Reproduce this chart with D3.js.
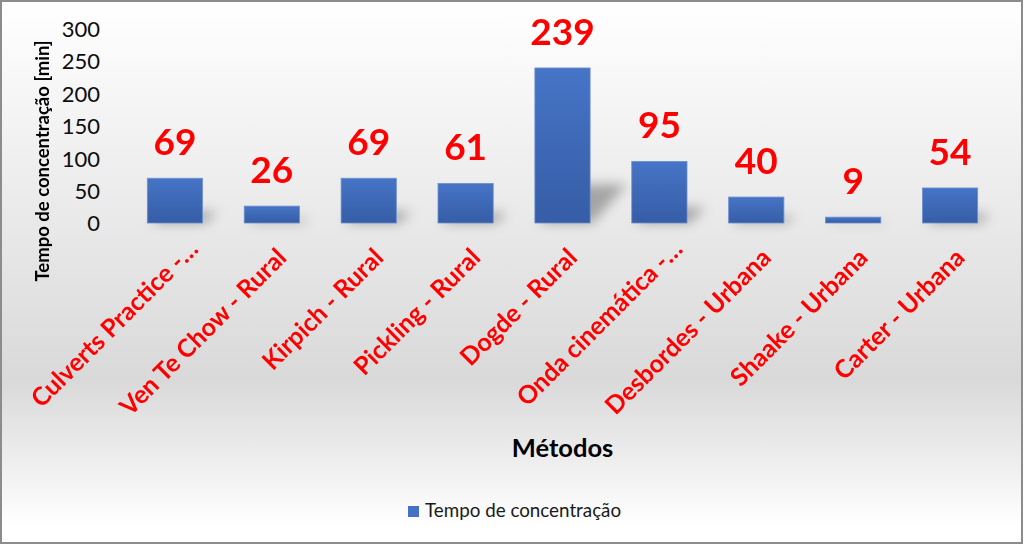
<!DOCTYPE html>
<html><head><meta charset="utf-8">
<script src="https://cdn.jsdelivr.net/npm/d3@7"></script>
<style>html,body{margin:0;padding:0;background:#fff;}svg{display:block;}</style>
</head><body>
<script>
const categories = ["Culverts Practice -…","Ven Te Chow - Rural","Kirpich - Rural","Pickling - Rural","Dogde - Rural","Onda cinemática -…","Desbordes - Urbana","Shaake - Urbana","Carter - Urbana"];
const values = [69, 26, 69, 61, 239, 95, 40, 9, 54];
const yTicks = [0, 50, 100, 150, 200, 250, 300];
const seriesName = "Tempo de concentração";
const yTitle = "Tempo de concentração [min]";
const xTitle = "Métodos";

const W = 1024, H = 545;
const FONT = "Lato, 'Open Sans', sans-serif";
const svg = d3.select("body").append("svg").attr("width", W).attr("height", H);
const defs = svg.append("defs");

const bg = defs.append("linearGradient").attr("id","bg").attr("x1",0).attr("y1",0).attr("x2",0).attr("y2",1);
bg.append("stop").attr("offset","0%").attr("stop-color","#ffffff");
bg.append("stop").attr("offset","70%").attr("stop-color","#d9d9d9");
bg.append("stop").attr("offset","97%").attr("stop-color","#ffffff");

const bar = defs.append("linearGradient").attr("id","bar").attr("x1",0).attr("y1",0).attr("x2",0).attr("y2",1);
bar.append("stop").attr("offset","0%").attr("stop-color","#4674c6");
bar.append("stop").attr("offset","100%").attr("stop-color","#365da6");

const blur = defs.append("filter").attr("id","blur").attr("x","-50%").attr("y","-50%").attr("width","200%").attr("height","200%");
blur.append("feGaussianBlur").attr("stdDeviation",6);

svg.append("rect").attr("x",1).attr("y",1).attr("width",W-3).attr("height",H-3)
  .attr("fill","url(#bg)").attr("stroke","#8c8c8c").attr("stroke-width",2);

const x = d3.scaleBand().domain(categories).range([126.5, 998.5]).paddingInner(0.43).paddingOuter(0.215);
const y = d3.scaleLinear().domain([0, 300]).range([223, 28.4]);

// shadows
svg.append("g").attr("filter","url(#blur)").selectAll("path").data(values).join("path")
  .attr("d", (d,i) => {
    const x0 = x(categories[i]), x1 = x0 + x.bandwidth(), y0 = y(0), h = y(0) - y(d);
    const sh = h * 0.25, sk = h * 0.2;
    return `M${x0+4},${y0} L${x1+2},${y0} L${x1+sk+6},${y0-sh} L${x0+sk+6},${y0-sh} Z`;
  })
  .attr("fill","#000").attr("opacity",0.3);

// bars
svg.append("g").selectAll("rect").data(values).join("rect")
  .attr("x",(d,i)=>x(categories[i])).attr("width",x.bandwidth())
  .attr("y",d=>y(d)).attr("height",d=>y(0)-y(d))
  .attr("fill","url(#bar)").attr("stroke","#6d8fd0").attr("stroke-width",0.8);

// y axis (no line, no ticks)
const yAxis = svg.append("g").attr("transform","translate(112,0)")
  .call(d3.axisLeft(y).tickValues(yTicks).tickSize(0).tickPadding(12));
yAxis.select(".domain").remove();
yAxis.selectAll("text").attr("font-family",FONT).attr("font-size",22).attr("fill","#0d0d0d").attr("dy","0.36em");

// x axis labels
const xAxis = svg.append("g").attr("transform",`translate(0,${y(0)})`)
  .call(d3.axisBottom(x).tickSize(0).tickPadding(0));
xAxis.select(".domain").remove();
xAxis.selectAll("text")
  .attr("font-family",FONT).attr("font-size",25).attr("font-weight","bold").attr("fill","#ff0000")
  .attr("text-anchor","end")
  .attr("dy","0.35em").attr("y",0)
  .attr("transform", d => {
    const off = d.endsWith("…") ? 12 : 0;
    return `translate(${10+off*0.707},${30-off*0.707}) rotate(-45)`;
  });

// data labels
svg.append("g").selectAll("text").data(values).join("text")
  .attr("x",(d,i)=>x(categories[i])+x.bandwidth()/2).attr("y",d=>y(d)-23)
  .attr("text-anchor","middle").attr("font-family",FONT).attr("font-size",37).attr("font-weight","bold")
  .attr("fill","#ff0000").text(d=>d);

// axis titles
svg.append("text").attr("transform","translate(49,161) rotate(-90)").attr("text-anchor","middle")
  .attr("font-family",FONT).attr("font-size",18.5).attr("font-weight","bold").attr("fill","#000").text(yTitle);
svg.append("text").attr("x",562.5).attr("y",457).attr("text-anchor","middle")
  .attr("font-family",FONT).attr("font-size",25.5).attr("font-weight","bold").attr("fill","#000").text(xTitle);

// legend
const lg = svg.append("g");
lg.append("rect").attr("x",408).attr("y",506).attr("width",11).attr("height",11).attr("fill","#4472c4");
lg.append("text").attr("x",425).attr("y",517).attr("font-family",FONT).attr("font-size",18.8).attr("fill","#1a1a1a").text(seriesName);
</script>
</body></html>
